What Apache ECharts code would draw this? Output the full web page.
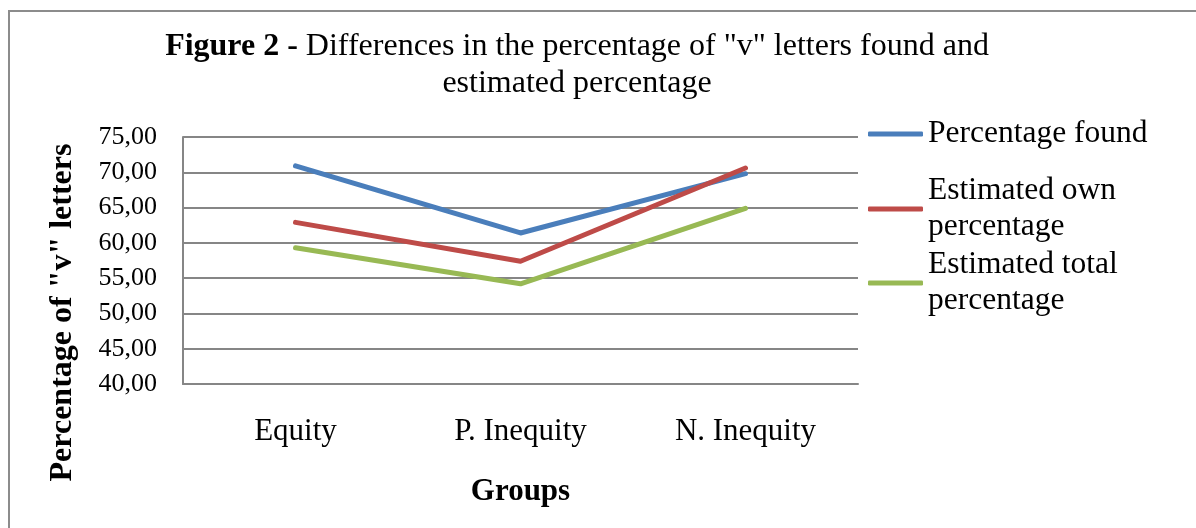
<!DOCTYPE html>
<html>
<head>
<meta charset="utf-8">
<style>
  html, body { margin: 0; padding: 0; background: #ffffff; }
  #chart { width: 1196px; height: 528px; }
</style>
<script src="https://cdn.jsdelivr.net/npm/echarts@6/dist/echarts.min.js"></script>
</head>
<body>
<div id="chart"></div>
<script>
// Groups on the category axis
const groups = ['Equity', 'P. Inequity', 'N. Inequity'];

// Percentage of "v" letters per group
const percentageFound = [70.9, 61.4, 69.8];
const estimatedOwn = [62.9, 57.4, 70.6];
const estimatedTotal = [59.3, 54.2, 64.9];

// Series names (legend text)
const seriesNames = ['Percentage found', 'Estimated own\npercentage', 'Estimated total\npercentage'];
const seriesColors = ['#4a7ebb', '#be4b48', '#98b954'];

// Value axis range
const yMin = 40, yMax = 75, yStep = 5;

const FONT = '"Liberation Serif", "Times New Roman", serif';
const LEGEND_LH = 36;

const chart = echarts.init(document.getElementById('chart'), null, { renderer: 'canvas' });

const seriesData = [percentageFound, estimatedOwn, estimatedTotal];

// One legend block per series so that two-line names keep their icon on the first line
const legendTops = [111, 150, 224];
const legends = seriesNames.map((name, i) => ({
  data: [name],
  orient: 'vertical',
  left: 863,
  top: legendTops[i],
  icon: 'roundRect',
  itemWidth: 55,
  itemHeight: 5,
  itemGap: 0,
  selectedMode: false,
  textStyle: {
    fontFamily: FONT,
    fontSize: 31.5,
    color: '#000',
    lineHeight: LEGEND_LH,
    padding: i === 0 ? [0, 0, 0, 0] : [LEGEND_LH, 0, 0, 0]
  }
}));

chart.setOption({
  animation: false,
  backgroundColor: '#ffffff',
  title: {
    text: '{b|Figure 2 -} Differences in the percentage of "v" letters found and\nestimated percentage',
    left: 572,
    top: 23,
    textAlign: 'center',
    textStyle: {
      fontFamily: FONT,
      fontSize: 32,
      fontWeight: 'normal',
      color: '#000',
      lineHeight: 37,
      align: 'center',
      rich: {
        b: { fontFamily: FONT, fontSize: 32, fontWeight: 'bold', color: '#000', lineHeight: 37 }
      }
    }
  },
  legend: legends,
  graphic: [{
    type: 'rect',
    shape: { x: 9, y: 11, width: 1400, height: 800 },
    style: { fill: 'none', stroke: '#8c8c8c', lineWidth: 2 },
    silent: true,
    z: -10
  }],
  grid: { left: 183, right: 338, top: 137, bottom: 144 },
  xAxis: {
    type: 'category',
    data: groups,
    boundaryGap: true,
    name: 'Groups',
    nameLocation: 'middle',
    nameGap: 92,
    nameTextStyle: { fontFamily: FONT, fontSize: 31, fontWeight: 'bold', color: '#000' },
    axisLine: { show: true, lineStyle: { color: '#868686', width: 2 } },
    axisTick: { show: false },
    axisLabel: { fontFamily: FONT, fontSize: 31, color: '#000', margin: 32 },
    splitLine: { show: false }
  },
  yAxis: {
    type: 'value',
    min: yMin,
    max: yMax,
    interval: yStep,
    name: 'Percentage of "v" letters',
    nameLocation: 'middle',
    nameGap: 104,
    nameRotate: 90,
    nameTextStyle: { fontFamily: FONT, fontSize: 32, fontWeight: 'bold', color: '#000', padding: [0, 0, 0, -104] },
    axisLine: { show: true, lineStyle: { color: '#868686', width: 2 } },
    axisTick: { show: false },
    axisLabel: {
      fontFamily: FONT,
      fontSize: 26,
      color: '#000',
      margin: 26,
      formatter: v => v.toFixed(2).replace('.', ',')
    },
    splitLine: { show: true, lineStyle: { color: '#868686', width: 2 } }
  },
  series: seriesNames.map((name, i) => ({
    name: name,
    type: 'line',
    data: seriesData[i],
    symbol: 'none',
    color: seriesColors[i],
    lineStyle: { color: seriesColors[i], width: 5, cap: 'round', join: 'round' },
    z: 10 + i
  }))
});
</script>
</body>
</html>
